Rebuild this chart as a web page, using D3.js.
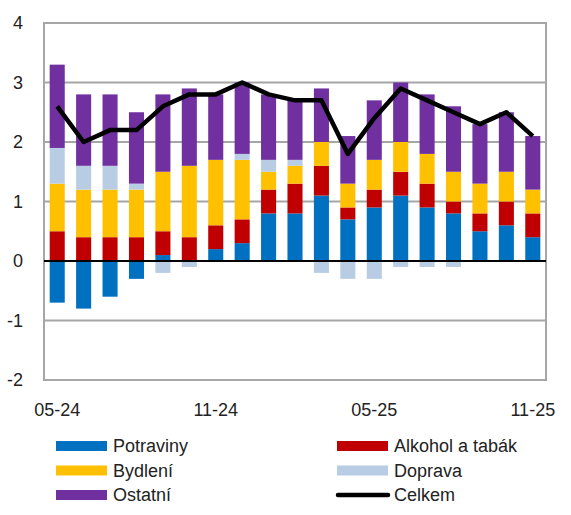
<!DOCTYPE html>
<html>
<head>
<meta charset="utf-8">
<script src="https://cdn.jsdelivr.net/npm/d3@7"></script>
<style>
  body { margin: 0; background: #fff; }
  svg { display: block; font-family: "Liberation Sans", Arial, sans-serif; }
</style>
</head>
<body>
<div id="chart"></div>
<script>
const months = ["05-24","06-24","07-24","08-24","09-24","10-24","11-24","12-24","01-25","02-25",
  "03-25","04-25","05-25","06-25","07-25","08-25","09-25","10-25","11-25"];
const potraviny = [-0.7,-0.8,-0.6,-0.3, 0.1, 0.0, 0.2, 0.3, 0.8, 0.8, 1.1, 0.7, 0.9, 1.1, 0.9, 0.8, 0.5, 0.6, 0.4];
const alkohol   = [ 0.5, 0.4, 0.4, 0.4, 0.4, 0.4, 0.4, 0.4, 0.4, 0.5, 0.5, 0.2, 0.3, 0.4, 0.4, 0.2, 0.3, 0.4, 0.4];
const bydleni   = [ 0.8, 0.8, 0.8, 0.8, 1.0, 1.2, 1.1, 1.0, 0.3, 0.3, 0.4, 0.4, 0.5, 0.5, 0.5, 0.5, 0.5, 0.5, 0.4];
const doprava   = [ 0.6, 0.4, 0.4, 0.1,-0.2,-0.1, 0.0, 0.1, 0.2, 0.1,-0.2,-0.3,-0.3,-0.1,-0.1,-0.1, 0.0, 0.0, 0.0];
const ostatni   = [ 1.4, 1.2, 1.2, 1.2, 1.3, 1.3, 1.1, 1.2, 1.1, 1.0, 0.9, 0.8, 1.0, 1.0, 1.0, 1.1, 1.0, 1.0, 0.9];
const celkem    = [ 2.6, 2.0, 2.2, 2.2, 2.6, 2.8, 2.8, 3.0, 2.8, 2.7, 2.7, 1.8, 2.4, 2.9, 2.7, 2.5, 2.3, 2.5, 2.1];
const xTicks = ["05-24","11-24","05-25","11-25"];
const yTicks = [-2,-1,0,1,2,3,4];

const series = [
  { key: "Potraviny", values: potraviny, color: "#0070C0" },
  { key: "Alkohol a tabák", values: alkohol, color: "#C00000" },
  { key: "Bydlení", values: bydleni, color: "#FFC000" },
  { key: "Doprava", values: doprava, color: "#B8CCE4" },
  { key: "Ostatní", values: ostatni, color: "#7030A0" }
];

const W = 571, H = 515;
const m = { left: 44, right: 546, top: 23, bottom: 380 };
const grey = "#a6a6a6";

const svg = d3.select("#chart").append("svg")
  .attr("width", W).attr("height", H);

const x = d3.scaleBand().domain(months).range([m.left, m.right])
  .paddingInner(0.43).paddingOuter(0.215);
const y = d3.scaleLinear().domain([-2, 4]).range([m.bottom, m.top]);

// grid
svg.append("g").selectAll("line")
  .data(yTicks.filter(d => d !== 0 && d !== -2 && d !== 4))
  .enter().append("line")
  .attr("x1", m.left).attr("x2", m.right)
  .attr("y1", d => y(d)).attr("y2", d => y(d))
  .attr("stroke", grey).attr("stroke-width", 2);

// frame
svg.append("rect")
  .attr("x", m.left).attr("y", m.top)
  .attr("width", m.right - m.left).attr("height", m.bottom - m.top)
  .attr("fill", "none").attr("stroke", grey).attr("stroke-width", 2);

// stacked bars
const rows = months.map((mo, i) => {
  const r = { month: mo };
  series.forEach(s => { r[s.key] = s.values[i]; });
  return r;
});
const stack = d3.stack().keys(series.map(s => s.key)).offset(d3.stackOffsetDiverging);
const layers = stack(rows);

svg.append("g").selectAll("g")
  .data(layers)
  .enter().append("g")
  .attr("fill", (d, i) => series[i].color)
  .selectAll("rect")
  .data(d => d)
  .enter().append("rect")
  .attr("x", d => x(d.data.month))
  .attr("width", x.bandwidth())
  .attr("y", d => y(Math.max(d[0], d[1])))
  .attr("height", d => Math.abs(y(d[0]) - y(d[1])));

// zero line
svg.append("line")
  .attr("x1", m.left).attr("x2", m.right)
  .attr("y1", y(0)).attr("y2", y(0))
  .attr("stroke", "#000").attr("stroke-width", 2);

// total line
const line = d3.line()
  .x((d, i) => x(months[i]) + x.bandwidth() / 2)
  .y(d => y(d));
svg.append("path")
  .datum(celkem)
  .attr("d", line)
  .attr("fill", "none")
  .attr("stroke", "#000")
  .attr("stroke-width", 4.5)
  .attr("stroke-linejoin", "round");

// axes
const yAxis = svg.append("g")
  .attr("transform", `translate(${m.left},0)`)
  .call(d3.axisLeft(y).tickValues(yTicks).tickSize(0).tickPadding(21).tickFormat(d => String(d)));
yAxis.select(".domain").remove();

const xAxis = svg.append("g")
  .attr("transform", `translate(0,${m.bottom})`)
  .call(d3.axisBottom(x).tickValues(xTicks).tickSize(0).tickPadding(23));
xAxis.select(".domain").remove();

svg.selectAll(".tick text")
  .attr("font-size", 18)
  .attr("font-family", "Liberation Sans, Arial, sans-serif")
  .attr("fill", "#222");

// legend
const legendItems = [
  { key: "Potraviny", color: "#0070C0", col: 0, row: 0 },
  { key: "Alkohol a tabák", color: "#C00000", col: 1, row: 0 },
  { key: "Bydlení", color: "#FFC000", col: 0, row: 1 },
  { key: "Doprava", color: "#B8CCE4", col: 1, row: 1 },
  { key: "Ostatní", color: "#7030A0", col: 0, row: 2 },
  { key: "Celkem", color: "#000", col: 1, row: 2, line: true }
];
const colX = [56, 337];
const rowY = [446, 470.5, 495];

const lg = svg.append("g").selectAll("g")
  .data(legendItems)
  .enter().append("g")
  .attr("transform", d => `translate(${colX[d.col]},${rowY[d.row]})`);

lg.filter(d => !d.line).append("rect")
  .attr("x", 0).attr("y", -5).attr("width", 51).attr("height", 10)
  .attr("fill", d => d.color);

lg.filter(d => d.line).append("line")
  .attr("x1", 1).attr("x2", 51).attr("y1", 0).attr("y2", 0)
  .attr("stroke", "#000").attr("stroke-width", 4.5).attr("stroke-linecap", "round");

lg.append("text")
  .attr("x", 57).attr("y", 0).attr("dy", "0.35em")
  .attr("font-size", 18)
  .attr("fill", "#222")
  .text(d => d.key);
</script>
</body>
</html>
